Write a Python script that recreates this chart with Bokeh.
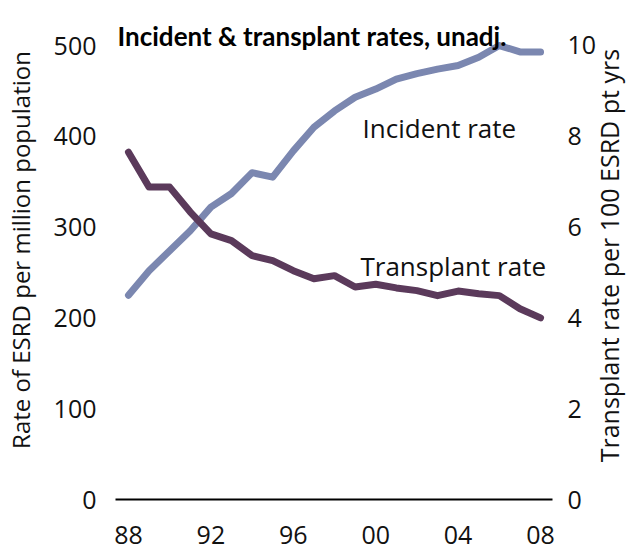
import math
from bokeh.plotting import figure
from bokeh.models import Range1d, LinearAxis, Label, FixedTicker
from bokeh.embed import file_html
from bokeh.resources import INLINE

# ---- data ----
years = list(range(1988, 2009))
incident_rate = [225, 252, 274, 296, 322, 337, 360, 355, 384, 410, 428,
                 443, 452, 463, 469, 474, 478, 487, 500, 493, 493]
transplant_rate = [7.65, 6.88, 6.88, 6.33, 5.85, 5.70, 5.37, 5.26, 5.04, 4.86, 4.93,
                   4.68, 4.74, 4.66, 4.60, 4.49, 4.59, 4.53, 4.49, 4.20, 4.00]
x_ticks = [1988, 1992, 1996, 2000, 2004, 2008]
x_tick_labels = ["88", "92", "96", "00", "04", "08"]
left_ticks = [0, 100, 200, 300, 400, 500]
right_ticks = [0, 2, 4, 6, 8, 10]

title_text = "Incident & transplant rates, unadj."
left_label = "Rate of ESRD per million population"
right_label = "Transplant rate per 100 ESRD pt yrs"

INC_COLOR = "#7b87b0"
TX_COLOR = "#5b3a5b"
FONT = "Open Sans"
TXT = "#111111"

p = figure(frame_width=437, frame_height=499, output_backend="svg", toolbar_location=None,
           x_range=Range1d(1987.37, 2008.58), y_range=Range1d(0, 549.6),
           min_border_left=113, min_border_right=4, min_border_top=0,
           min_border_bottom=51)
p.extra_y_ranges = {"tx": Range1d(0, 10.99)}
p.outline_line_color = None
p.xgrid.visible = False
p.ygrid.visible = False
p.background_fill_color = "white"
p.border_fill_color = "white"

# bottom axis
xa = p.xaxis[0]
xa.ticker = FixedTicker(ticks=x_ticks)
xa.major_label_overrides = {t: l for t, l in zip(x_ticks, x_tick_labels)}
xa.major_tick_line_color = None
xa.minor_tick_line_color = None
xa.axis_line_color = "black"
xa.axis_line_width = 2
xa.major_label_text_font = FONT
xa.major_label_text_font_size = "25px"
xa.major_label_text_color = TXT
xa.major_label_standoff = 20

# left axis
ya = p.yaxis[0]
ya.ticker = FixedTicker(ticks=left_ticks)
ya.axis_line_color = None
ya.major_tick_line_color = None
ya.minor_tick_line_color = None
ya.major_label_text_font = FONT
ya.major_label_text_font_size = "25px"
ya.major_label_text_color = TXT
ya.major_label_standoff = 13
ya.axis_label = left_label
ya.axis_label_text_font = FONT
ya.axis_label_text_font_size = "24px"
ya.axis_label_text_font_style = "normal"
ya.axis_label_text_color = TXT
ya.axis_label_standoff = 14

# right axis (ticks)
ra = LinearAxis(y_range_name="tx", ticker=FixedTicker(ticks=right_ticks))
ra.axis_line_color = None
ra.major_tick_line_color = None
ra.minor_tick_line_color = None
ra.major_label_text_font = FONT
ra.major_label_text_font_size = "25px"
ra.major_label_text_color = TXT
ra.major_label_standoff = 9
p.add_layout(ra, "right")

# right axis title, drawn bottom-to-top starting near the foot of the axis
title_anchor = 0.82  # on the right-hand scale
rt = LinearAxis(y_range_name="tx", ticker=FixedTicker(ticks=[title_anchor]))
rt.major_label_overrides = {title_anchor: right_label}
rt.major_label_orientation = math.pi / 2
rt.axis_line_color = None
rt.major_tick_line_color = None
rt.minor_tick_line_color = None
rt.major_label_text_font = FONT
rt.major_label_text_font_size = "25px"
rt.major_label_text_color = TXT
rt.major_label_standoff = 4
p.add_layout(rt, "right")

# lines
p.line(years, incident_rate, line_color=INC_COLOR, line_width=7,
       line_join="round", line_cap="round")
p.line(years, transplant_rate, y_range_name="tx", line_color=TX_COLOR, line_width=7,
       line_join="round", line_cap="round")

# labels
p.add_layout(Label(x=1999.36, y=409.7, text="Incident rate", text_font=FONT,
                   text_font_size="26px", text_color=TXT, text_baseline="alphabetic"))
p.add_layout(Label(x=1999.26, y=257.7, text="Transplant rate", text_font=FONT,
                   text_font_size="26px", text_color=TXT, text_baseline="alphabetic"))
p.add_layout(Label(x=1987.47, y=511, text=title_text,
                   text_font="Lato", text_font_size="26px", text_font_style="bold",
                   text_color="black", text_baseline="alphabetic"))

open("out.html", "w").write(file_html(p, INLINE))
